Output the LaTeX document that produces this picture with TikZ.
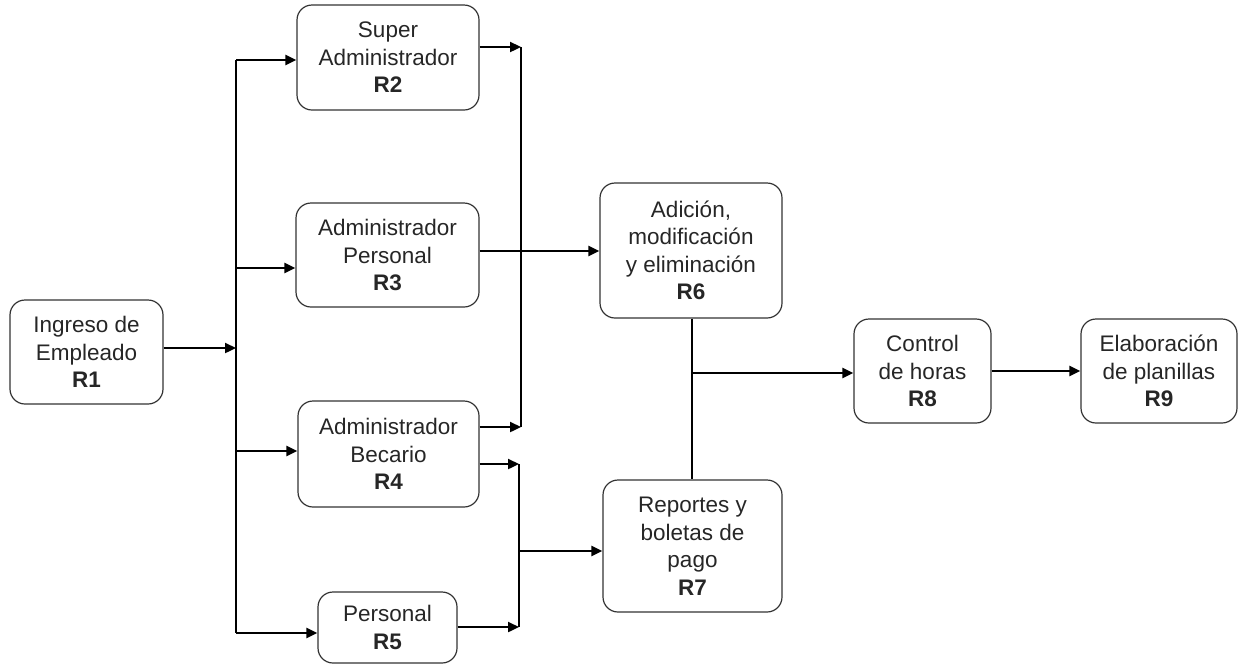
\documentclass[tikz,border=0pt]{standalone}
\usepackage{fontspec}
\setmainfont{Liberation Sans}
\usetikzlibrary{arrows.meta,calc}
\begin{document}
\begin{tikzpicture}[x=1pt,y=-1pt,
  box/.style={draw=black!80, line width=1.2pt, rounded corners=15pt, align=center,
    inner sep=0pt, font=\fontsize{22.5}{27.5}\selectfont, text=black!85},
  link/.style={line width=2.3pt, -{Triangle[length=11pt,width=10pt]}},
  wire/.style={line width=2.3pt}]
\useasboundingbox (0,0) rectangle (1247,665);

% process boxes
\node[box, minimum width=153, minimum height=104] (r1) at (86.5,352) {Ingreso de\\Empleado\\\textbf{R1}};
\node[box, minimum width=182, minimum height=105] (r2) at (388,57.5) {Super\\Administrador\\\textbf{R2}};
\node[box, minimum width=183, minimum height=104] (r3) at (387.5,255) {Administrador\\Personal\\\textbf{R3}};
\node[box, minimum width=181, minimum height=106] (r4) at (388.5,454) {Administrador\\Becario\\\textbf{R4}};
\node[box, minimum width=139, minimum height=71] (r5) at (387.5,627.5) {Personal\\\textbf{R5}};
\node[box, minimum width=182, minimum height=135] (r6) at (691,250.5) {Adición,\\modificación\\y eliminación\\\textbf{R6}};
\node[box, minimum width=179, minimum height=132] (r7) at (692.5,546) {Reportes y\\boletas de\\pago\\\textbf{R7}};
\node[box, minimum width=137, minimum height=104] (r8) at (922.5,371) {Control\\de horas\\\textbf{R8}};
\node[box, minimum width=156, minimum height=104] (r9) at (1159,371) {Elaboración\\de planillas\\\textbf{R9}};

% distribution bus after R1
\coordinate (ja) at (236,60);
\coordinate (jb) at (236,268);
\coordinate (jin) at (236,348);
\coordinate (jc) at (236,451);
\coordinate (jd) at (236,633);
\draw[wire] (ja) -- (jd);
\draw[link] (r1.east |- jin) -- (jin);
\draw[link] (ja) -- (r2.west |- ja);
\draw[link] (jb) -- (r3.west |- jb);
\draw[link] (jc) -- (r4.west |- jc);
\draw[link] (jd) -- (r5.west |- jd);

% collector towards R6
\coordinate (ka) at (521,47);
\coordinate (kb) at (521,427);
\coordinate (k3) at (0,251);
\draw[wire] (ka) -- (kb);
\draw[link] (r2.east |- ka) -- (ka);
\draw[link] (r4.east |- kb) -- (kb);
\draw[link] (r3.east |- k3) -- (r6.west |- k3);

% collector towards R7
\coordinate (ma) at (519,464);
\coordinate (mb) at (519,627);
\coordinate (mc) at (519,551);
\draw[wire] (ma) -- (mb);
\draw[link] (r4.east |- ma) -- (ma);
\draw[link] (r5.east |- mb) -- (mb);
\draw[link] (mc) -- (r7.west |- mc);

% R6 / R7 join towards R8 and R9
\coordinate (n1) at (692,373);
\draw[wire] (r6.south -| n1) -- (r7.north -| n1);
\draw[link] (n1) -- (r8.west |- n1);
\draw[link] (r8.east) -- (r9.west);
\end{tikzpicture}
\end{document}
